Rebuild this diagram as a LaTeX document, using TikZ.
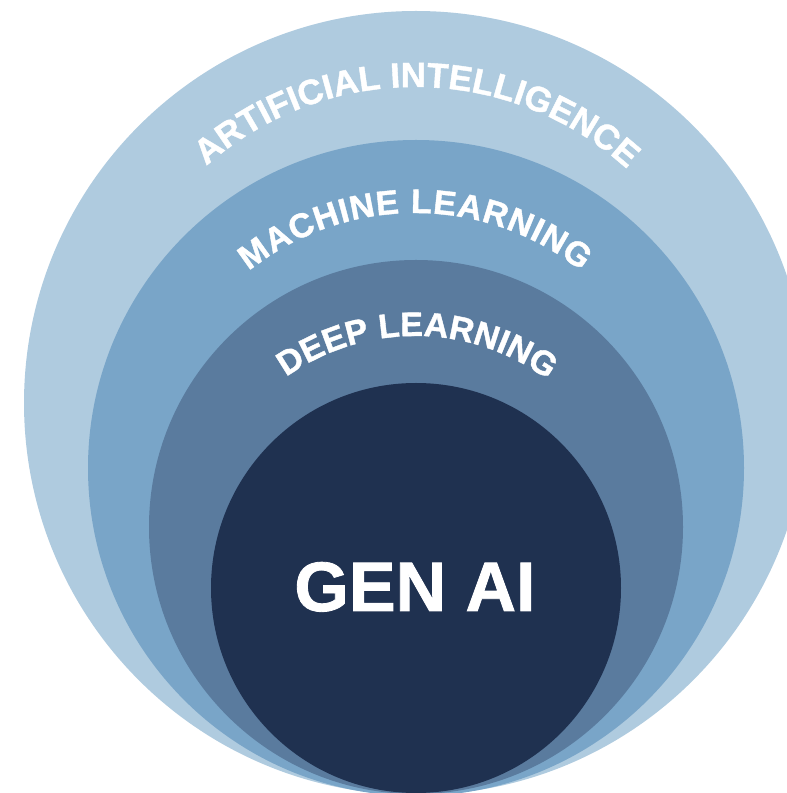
\documentclass[tikz,border=0pt]{standalone}
\usepackage{fontspec}
\setmainfont{Liberation Sans}
\newfontfamily\heavyfont{Liberation Sans Bold}[FakeBold=1.2]
\usetikzlibrary{decorations.text}
\definecolor{aiC}{RGB}{175,203,223}
\definecolor{mlC}{RGB}{121,165,200}
\definecolor{dlC}{RGB}{90,123,158}
\definecolor{genC}{RGB}{31,49,80}
\begin{document}
\begin{tikzpicture}[x=1pt,y=1pt,
  arctext/.style={decorate, decoration={text along path, text align=fit to path, text color=white, text={#1}}}]
\useasboundingbox (0,0) rectangle (787,793);
\clip (0,0) rectangle (787,793);
% circles
\fill[aiC] (416,390) circle[radius=392];
\fill[mlC] (416,325) circle[radius=328];
\fill[dlC] (416,266) circle[radius=267];
\fill[genC] (416,205) circle[radius=205];
% arc labels
\coordinate (aic) at (415,391);
\coordinate (mlc) at (415,313);
\coordinate (dlc) at (415,234);
\path[arctext={|\fontsize{35}{40}\heavyfont|ARTIFICIAL INTELLIGENCE}]
  (aic) ++(131.5:315) arc[start angle=131.5, end angle=48.5, radius=315];
\path[arctext={|\fontsize{34}{40}\heavyfont|MACHINE LEARNING}]
  (mlc) ++(128.5:267) arc[start angle=128.5, end angle=51.5, radius=267];
\path[arctext={|\fontsize{34}{40}\heavyfont|DEEP LEARNING}]
  (dlc) ++(125.3:223) arc[start angle=125.3, end angle=54.7, radius=223];
% center label
\node[anchor=base, text=white, inner sep=0, font=\fontsize{70}{80}\heavyfont] (gen) at (415,182) {GEN AI};
\end{tikzpicture}
\end{document}
